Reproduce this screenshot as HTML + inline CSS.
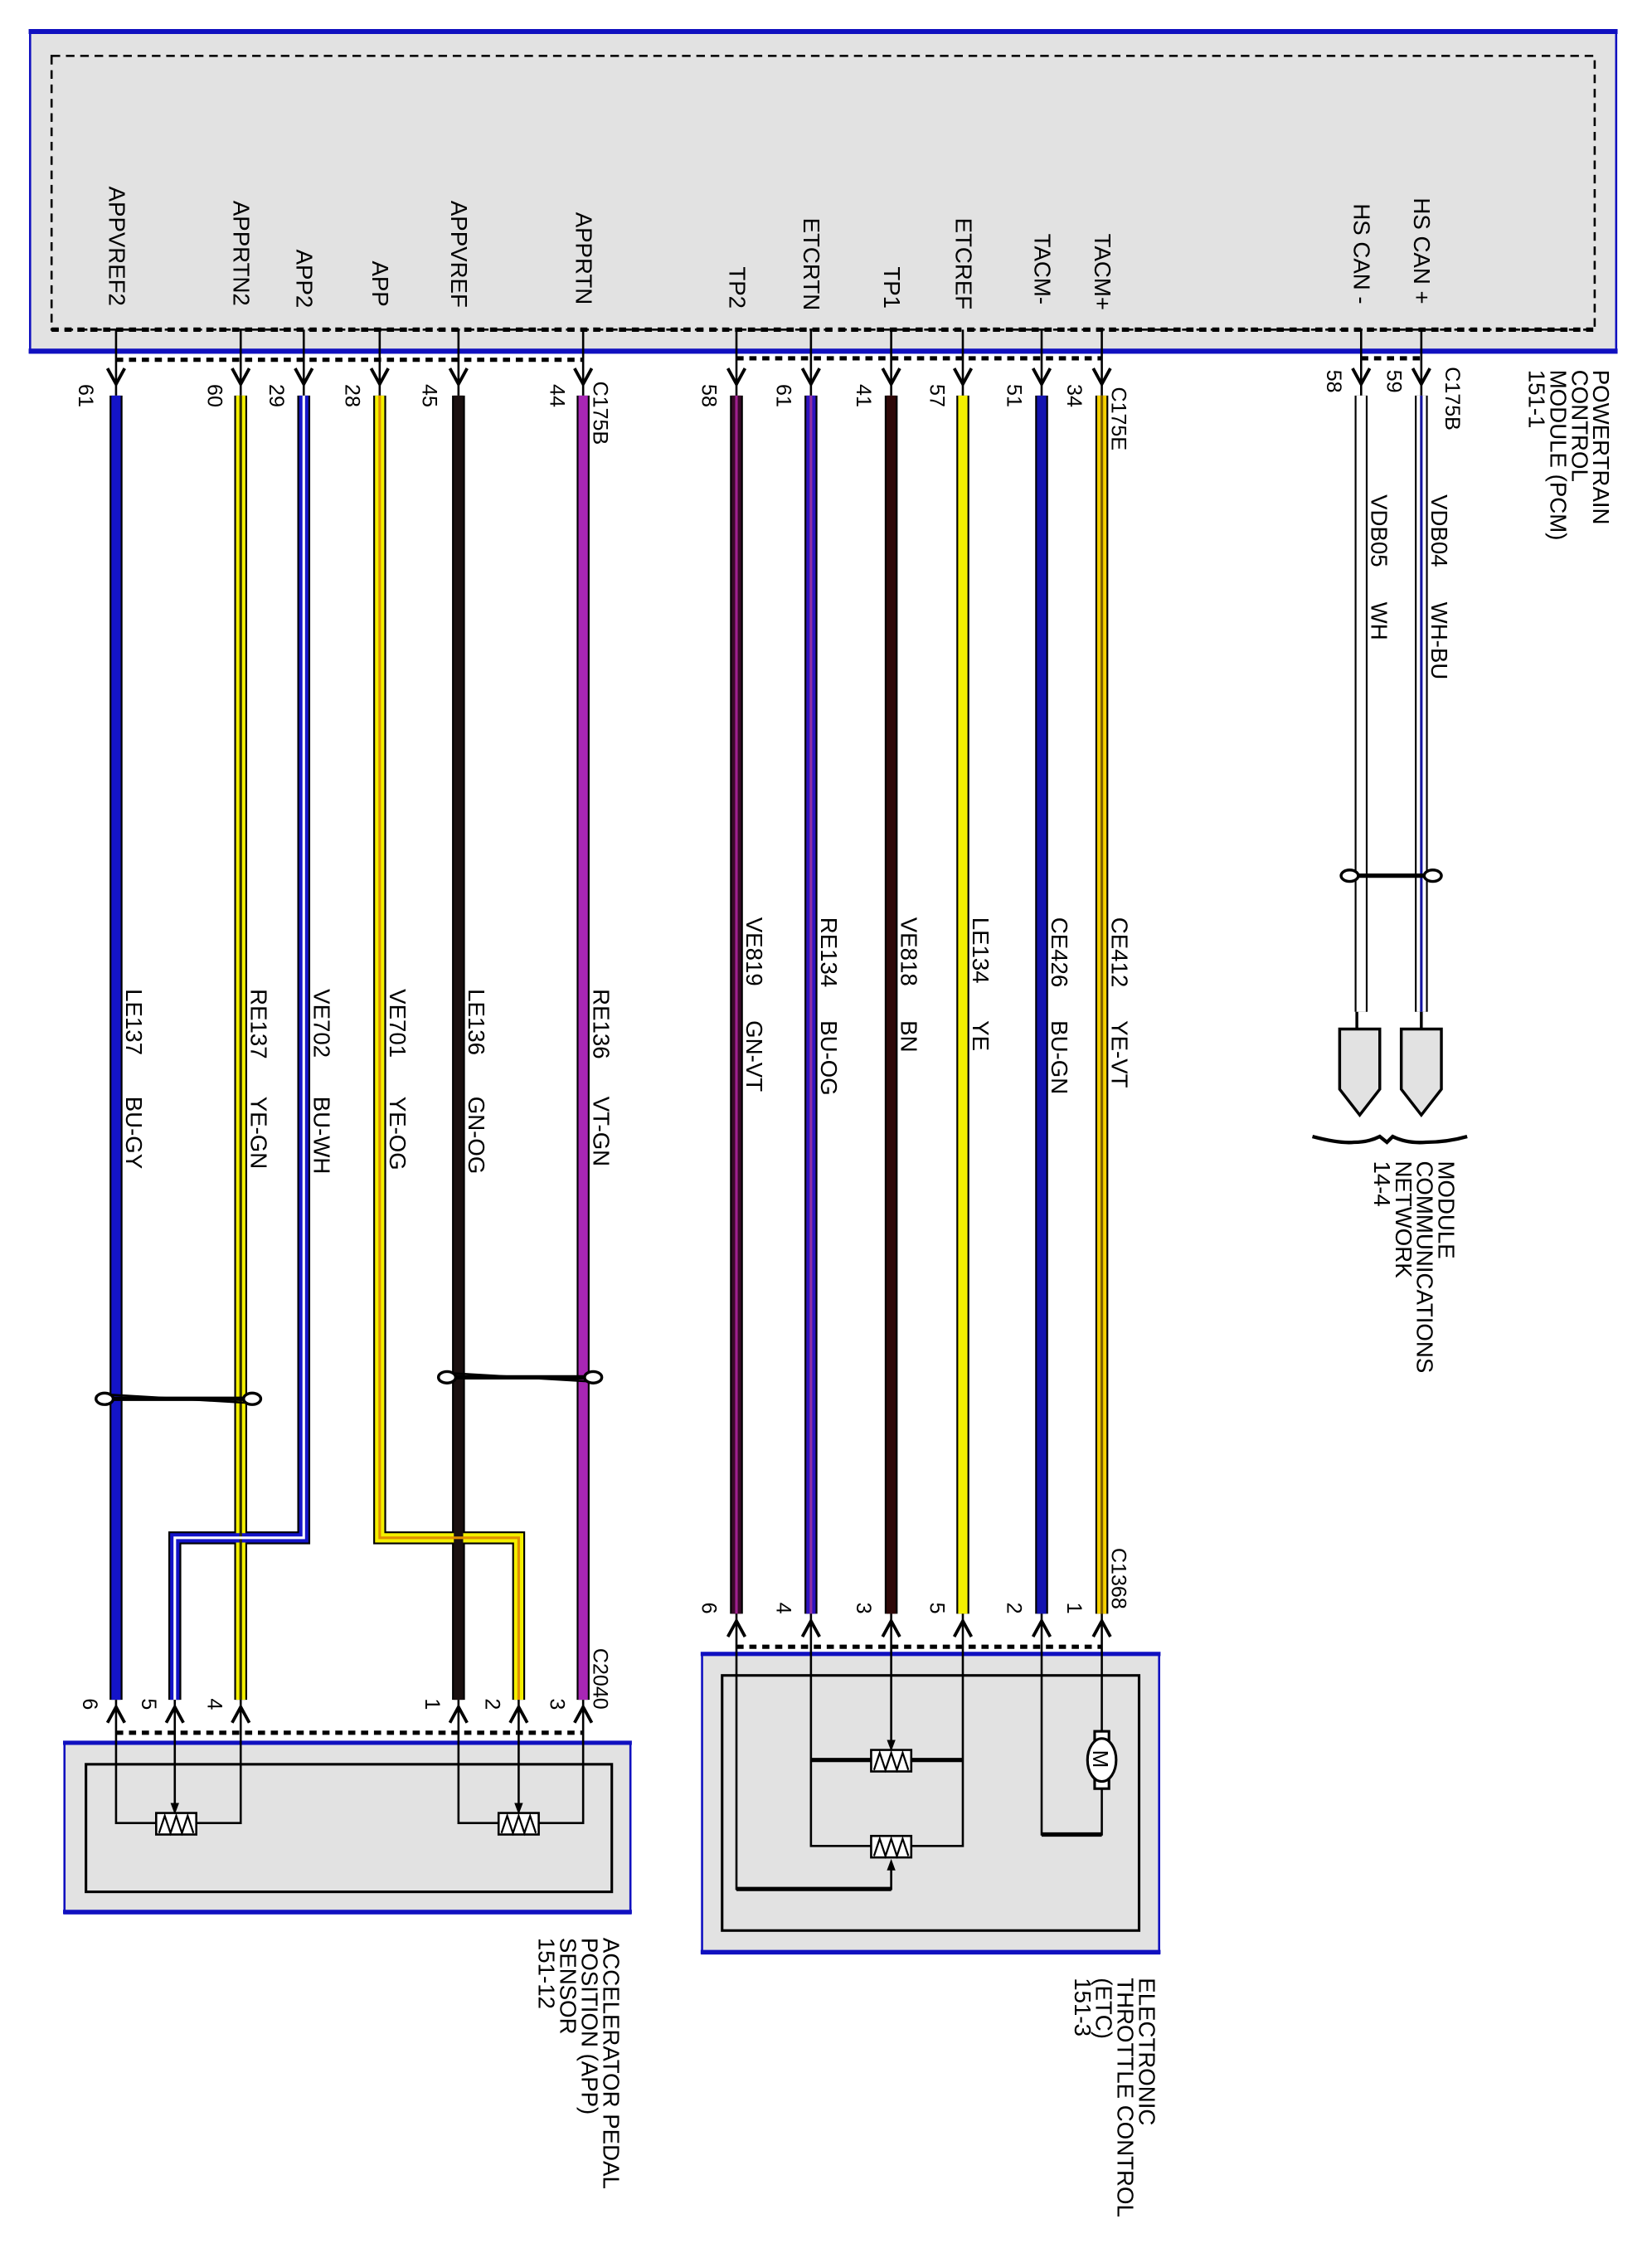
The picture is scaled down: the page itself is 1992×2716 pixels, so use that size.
<!DOCTYPE html>
<html><head><meta charset="utf-8"><style>
html,body{margin:0;padding:0;background:#fff}
svg{display:block}
text{font-family:"Liberation Sans",Arial,sans-serif;fill:#000}
</style></head><body>
<svg width="1992" height="2716" viewBox="0 0 1153 1572" preserveAspectRatio="none" xmlns="http://www.w3.org/2000/svg">
<rect width="1153" height="1572" fill="#fff"/>
<!-- PCM box -->
<rect x="21" y="22" width="1107" height="224" fill="#e2e2e2" stroke="#1010c0" stroke-width="1.5"/>
<line x1="20" y1="22" x2="1129" y2="22" stroke="#1010c0" stroke-width="3.5"/>
<line x1="20" y1="245" x2="1129" y2="245" stroke="#1010c0" stroke-width="3.5"/>
<rect x="36" y="39" width="1077" height="191" fill="none" stroke="#000" stroke-width="1.5" stroke-dasharray="6,4"/>
<line x1="36" y1="230" x2="1113" y2="230" stroke="#000" stroke-width="3" stroke-dasharray="5,4"/>

<g font-size="16">
<text transform="translate(76,130) rotate(90)">APPVREF2</text>
<text transform="translate(163,140) rotate(90)">APPRTN2</text>
<text transform="translate(207,174) rotate(90)">APP2</text>
<text transform="translate(260,182) rotate(90)">APP</text>
<text transform="translate(315,140) rotate(90)">APPVREF</text>
<text transform="translate(402,148) rotate(90)">APPRTN</text>
<text transform="translate(509,186) rotate(90)">TP2</text>
<text transform="translate(561,152) rotate(90)">ETCRTN</text>
<text transform="translate(617,186) rotate(90)">TP1</text>
<text transform="translate(667,152) rotate(90)">ETCREF</text>
<text transform="translate(722,163) rotate(90)">TACM-</text>
<text transform="translate(764,163) rotate(90)">TACM+</text>
<text transform="translate(945,142) rotate(90)">HS CAN -</text>
<text transform="translate(987,138) rotate(90)">HS CAN +</text>
</g>

<g stroke="#000" stroke-width="1.5" fill="none">
<path d="M81 230V276M168 230V276M212 230V276M265 230V276M320 230V276M407 230V276M514 230V276M566 230V276M622 230V276M672 230V276M727 230V276M769 230V276M950 230V276M992 230V276"/>
</g>
<g stroke="#000" stroke-width="2.2" fill="none">
<path d="M75 257L81 268L87 257M162 257L168 268L174 257M206 257L212 268L218 257M259 257L265 268L271 257M314 257L320 268L326 257M401 257L407 268L413 257M508 257L514 268L520 257M560 257L566 268L572 257M616 257L622 268L628 257M666 257L672 268L678 257M721 257L727 268L733 257M763 257L769 268L775 257M944 257L950 268L956 257M986 257L992 268L998 257"/>
</g>
<g stroke="#000" stroke-width="3" stroke-dasharray="5,4">
<line x1="81" y1="251" x2="407" y2="251"/>
<line x1="514" y1="250" x2="769" y2="250"/>
<line x1="950" y1="250" x2="992" y2="250"/>
</g>

<g font-size="14.5">
<text transform="translate(55,268) rotate(90)">61</text>
<text transform="translate(145,268) rotate(90)">60</text>
<text transform="translate(188,268) rotate(90)">29</text>
<text transform="translate(241,268) rotate(90)">28</text>
<text transform="translate(295,268) rotate(90)">45</text>
<text transform="translate(384,268) rotate(90)">44</text>
<text transform="translate(490,268) rotate(90)">58</text>
<text transform="translate(542,268) rotate(90)">61</text>
<text transform="translate(598,268) rotate(90)">41</text>
<text transform="translate(649,268) rotate(90)">57</text>
<text transform="translate(703,268) rotate(90)">51</text>
<text transform="translate(745,268) rotate(90)">34</text>
<text transform="translate(926,258) rotate(90)">58</text>
<text transform="translate(968,258) rotate(90)">59</text>
<text transform="translate(414,266) rotate(90)">C175B</text>
<text transform="translate(776,270) rotate(90)">C175E</text>
<text transform="translate(1009,256) rotate(90)">C175B</text>
</g>
<g font-size="16">
<text transform="translate(1112,258) rotate(90)">POWERTRAIN<tspan x="0" dy="15">CONTROL</tspan><tspan x="0" dy="15">MODULE (PCM)</tspan><tspan x="0" dy="15">151-1</tspan></text>
</g>

<g fill="none" stroke-linejoin="miter">
<g stroke="#000" stroke-width="9">
<path d="M81 276V1186"/>
<path d="M168 276V1186"/>
<path d="M212 276V1073H122V1186"/>
<path d="M265 276V1073H362V1186"/>
<path d="M320 276V1186"/>
<path d="M407 276V1186"/>
<path d="M514 276V1126"/>
<path d="M566 276V1126"/>
<path d="M622 276V1126"/>
<path d="M672 276V1126"/>
<path d="M727 276V1126"/>
<path d="M769 276V1126"/>
<path d="M950 276V706"/>
<path d="M992 276V706"/>
</g>
<g stroke-width="6.5">
<path d="M81 276V1186" stroke="#1414c8"/>
<path d="M168 276V1186" stroke="#f4f000"/>
<path d="M212 276V1073H122V1186" stroke="#1414c8"/>
<path d="M265 276V1073H362V1186" stroke="#f4f000"/>
<path d="M320 276V1186" stroke="#1a1010"/>
<path d="M407 276V1186" stroke="#a826b4"/>
<path d="M514 276V1126" stroke="#3a0a2a"/>
<path d="M566 276V1126" stroke="#3014c0"/>
<path d="M622 276V1126" stroke="#2e0808"/>
<path d="M672 276V1126" stroke="#f4f000"/>
<path d="M727 276V1126" stroke="#1414b0"/>
<path d="M769 276V1126" stroke="#f4d000"/>
<path d="M950 276V706" stroke="#fff"/>
<path d="M992 276V706" stroke="#fff"/>
</g>
<g stroke-width="1.8">
<path d="M168 276V1186" stroke="#303000"/>
<path d="M212 276V1073H122V1186" stroke="#fff"/>
<path d="M265 276V1073H362V1186" stroke="#e09000"/>
<path d="M514 276V1126" stroke="#a02090"/>
<path d="M566 276V1126" stroke="#9030a0"/>
<path d="M769 276V1126" stroke="#806000"/>
<path d="M992 276V706" stroke="#1414a0"/>
</g>
</g>

<g font-size="16">
<text transform="translate(88,690) rotate(90)">LE137</text><text transform="translate(88,765) rotate(90)">BU-GY</text>
<text transform="translate(175,690) rotate(90)">RE137</text><text transform="translate(175,765) rotate(90)">YE-GN</text>
<text transform="translate(219,690) rotate(90)">VE702</text><text transform="translate(219,765) rotate(90)">BU-WH</text>
<text transform="translate(272,690) rotate(90)">VE701</text><text transform="translate(272,765) rotate(90)">YE-OG</text>
<text transform="translate(327,690) rotate(90)">LE136</text><text transform="translate(327,765) rotate(90)">GN-OG</text>
<text transform="translate(414,690) rotate(90)">RE136</text><text transform="translate(414,765) rotate(90)">VT-GN</text>
<text transform="translate(521,640) rotate(90)">VE819</text><text transform="translate(521,712) rotate(90)">GN-VT</text>
<text transform="translate(573,640) rotate(90)">RE134</text><text transform="translate(573,712) rotate(90)">BU-OG</text>
<text transform="translate(629,640) rotate(90)">VE818</text><text transform="translate(629,712) rotate(90)">BN</text>
<text transform="translate(679,640) rotate(90)">LE134</text><text transform="translate(679,712) rotate(90)">YE</text>
<text transform="translate(734,640) rotate(90)">CE426</text><text transform="translate(734,712) rotate(90)">BU-GN</text>
<text transform="translate(776,640) rotate(90)">CE412</text><text transform="translate(776,712) rotate(90)">YE-VT</text>
<text transform="translate(957,345) rotate(90)">VDB05</text><text transform="translate(957,420) rotate(90)">WH</text>
<text transform="translate(999,345) rotate(90)">VDB04</text><text transform="translate(999,420) rotate(90)">WH-BU</text>
</g>

<g fill="#fff" stroke="#000" stroke-width="2">
<line x1="943" y1="611" x2="1000" y2="611" stroke-width="3"/>
<ellipse cx="942" cy="611" rx="6" ry="4"/><ellipse cx="1000" cy="611" rx="6" ry="4"/>
<line x1="74" y1="976" x2="176" y2="976" stroke-width="3"/>
<line x1="74" y1="973" x2="176" y2="979" stroke-width="1.5"/>
<ellipse cx="73" cy="976" rx="6" ry="4"/><ellipse cx="176" cy="976" rx="6" ry="4"/>
<line x1="313" y1="961" x2="414" y2="961" stroke-width="3"/>
<line x1="313" y1="958" x2="414" y2="964" stroke-width="1.5"/>
<ellipse cx="312" cy="961" rx="6" ry="4"/><ellipse cx="414" cy="961" rx="6" ry="4"/>
</g>

<g stroke="#000" stroke-width="2">
<line x1="947" y1="706" x2="947" y2="718"/>
<line x1="992" y1="706" x2="992" y2="718"/>
<path d="M935 718H963V760L949 778L935 760Z" fill="#e2e2e2"/>
<path d="M978 718H1006V760L992 778L978 760Z" fill="#e2e2e2"/>
<path d="M916 793Q935 798 945 797Q955 797 963 793L968 797L972 793Q982 798 995 797Q1010 797 1024 793" fill="none" stroke-width="2.5"/>
</g>
<g font-size="16">
<text transform="translate(1004,810) rotate(90)">MODULE<tspan x="0" dy="15">COMMUNICATIONS</tspan><tspan x="0" dy="15">NETWORK</tspan><tspan x="0" dy="15">14-4</tspan></text>
</g>

<g stroke="#000" stroke-width="2.2" fill="none">
<path d="M508 1142L514 1131L520 1142M560 1142L566 1131L572 1142M616 1142L622 1131L628 1142M666 1142L672 1131L678 1142M721 1142L727 1131L733 1142M763 1142L769 1131L775 1142"/>
<path d="M75 1202L81 1191L87 1202M116 1202L122 1191L128 1202M162 1202L168 1191L174 1202M314 1202L320 1191L326 1202M356 1202L362 1191L368 1202M401 1202L407 1191L413 1202"/>
</g>
<g stroke="#000" stroke-width="3" stroke-dasharray="5,4">
<line x1="514" y1="1149" x2="769" y2="1149"/>
<line x1="81" y1="1209" x2="407" y2="1209"/>
</g>
<g font-size="14.5">
<text transform="translate(490,1118) rotate(90)">6</text>
<text transform="translate(542,1118) rotate(90)">4</text>
<text transform="translate(598,1118) rotate(90)">3</text>
<text transform="translate(649,1118) rotate(90)">5</text>
<text transform="translate(703,1118) rotate(90)">2</text>
<text transform="translate(745,1118) rotate(90)">1</text>
<text transform="translate(776,1080) rotate(90)">C1368</text>
<text transform="translate(58,1185) rotate(90)">6</text>
<text transform="translate(99,1185) rotate(90)">5</text>
<text transform="translate(145,1185) rotate(90)">4</text>
<text transform="translate(297,1185) rotate(90)">1</text>
<text transform="translate(339,1185) rotate(90)">2</text>
<text transform="translate(384,1185) rotate(90)">3</text>
<text transform="translate(414,1150) rotate(90)">C2040</text>
</g>

<!-- ETC box -->
<rect x="490" y="1154" width="319" height="209" fill="#e2e2e2" stroke="#1010c0" stroke-width="1.5"/>
<line x1="489" y1="1154" x2="810" y2="1154" stroke="#1010c0" stroke-width="3"/>
<line x1="489" y1="1362" x2="810" y2="1362" stroke="#1010c0" stroke-width="3"/>
<rect x="504" y="1169" width="291" height="178" fill="none" stroke="#000" stroke-width="1.8"/>
<g stroke="#000" fill="none" stroke-width="1.5">
<path d="M514 1126V1318H622V1302"/>
<path d="M566 1126V1288H608"/>
<path d="M672 1126V1288H636"/>
<path d="M566 1228H608M636 1228H672" stroke-width="3"/>
<path d="M622 1126V1218"/>
<path d="M727 1126V1280H769V1242"/>
<path d="M769 1126V1213"/>
<path d="M514 1318H622" stroke-width="3"/>
<path d="M727 1280H769" stroke-width="3"/>
</g>

<!-- APP box -->
<rect x="45" y="1216" width="395" height="119" fill="#e2e2e2" stroke="#1010c0" stroke-width="1.5"/>
<line x1="44" y1="1216" x2="441" y2="1216" stroke="#1010c0" stroke-width="3"/>
<line x1="44" y1="1334" x2="441" y2="1334" stroke="#1010c0" stroke-width="3"/>
<rect x="60" y="1231" width="367" height="89" fill="none" stroke="#000" stroke-width="1.8"/>
<g stroke="#000" fill="none" stroke-width="1.5">
<path d="M81 1186V1272H109"/>
<path d="M168 1186V1272H137"/>
<path d="M122 1186V1258"/>
<path d="M320 1186V1272H348"/>
<path d="M407 1186V1272H376"/>
<path d="M362 1186V1258"/>
</g>

<!-- pots -->
<g stroke="#000" stroke-width="1.5" fill="#fff">
<rect x="608" y="1221" width="28" height="15"/>
<rect x="608" y="1281" width="28" height="15"/>
<rect x="109" y="1265" width="28" height="15"/>
<rect x="348" y="1265" width="28" height="15"/>
</g>
<g stroke="#000" stroke-width="1.3" fill="none">
<path d="M610 1235L614 1223L618 1235L622 1223L626 1235L630 1223L634 1235"/>
<path d="M610 1295L614 1283L618 1295L622 1283L626 1295L630 1283L634 1295"/>
<path d="M111 1279L115 1267L119 1279L123 1267L127 1279L131 1267L135 1279"/>
<path d="M350 1279L354 1267L358 1279L362 1267L366 1279L370 1267L374 1279"/>
</g>
<g fill="#000">
<path d="M619 1214L625 1214L622 1222Z"/>
<path d="M619 1305L625 1305L622 1297Z"/>
<path d="M119 1258L125 1258L122 1266Z"/>
<path d="M359 1258L365 1258L362 1266Z"/>
</g>
<!-- motor -->
<g stroke="#000" stroke-width="1.8" fill="#fff">
<rect x="764" y="1208" width="10" height="6"/>
<rect x="764" y="1242" width="10" height="6"/>
<ellipse cx="769" cy="1228" rx="10" ry="15"/>
</g>
<text transform="translate(763,1221) rotate(90)" font-size="15">M</text>

<g font-size="16">
<text transform="translate(795,1380) rotate(90)">ELECTRONIC<tspan x="0" dy="15">THROTTLE CONTROL</tspan><tspan x="0" dy="15">(ETC)</tspan><tspan x="0" dy="15">151-3</tspan></text>
<text transform="translate(421,1352) rotate(90)">ACCELERATOR PEDAL<tspan x="0" dy="15">POSITION (APP)</tspan><tspan x="0" dy="15">SENSOR</tspan><tspan x="0" dy="15">151-12</tspan></text>
</g>
</svg>
</body></html>
